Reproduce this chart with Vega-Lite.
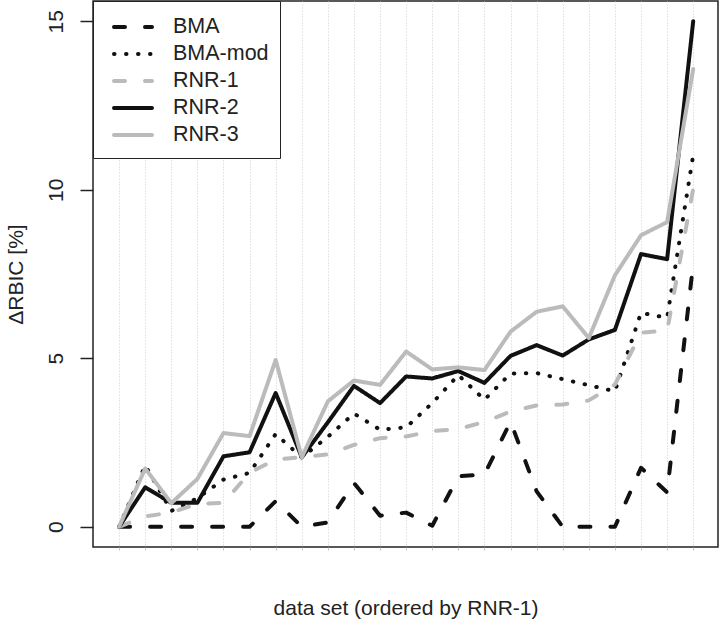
{
  "$schema": "https://vega.github.io/schema/vega-lite/v6.json",
  "width": 625,
  "height": 546,
  "autosize": {"type": "none"},
  "padding": {"left": 93, "top": 1, "right": 2, "bottom": 74},
  "background": "white",
  "config": {
    "view": {"stroke": "#222222", "strokeWidth": 1.5},
    "font": "Liberation Sans"
  },
  "data": {
    "values": [
      {"ds": 0, "BMA": 0, "BMA-mod": 0, "RNR-1": 0, "RNR-2": 0, "RNR-3": 0},
      {"ds": 1, "BMA": 0, "BMA-mod": 1.82, "RNR-1": 0.31, "RNR-2": 1.17, "RNR-3": 1.73},
      {"ds": 2, "BMA": 0, "BMA-mod": 0.47, "RNR-1": 0.42, "RNR-2": 0.71, "RNR-3": 0.70},
      {"ds": 3, "BMA": 0, "BMA-mod": 0.85, "RNR-1": 0.68, "RNR-2": 0.71, "RNR-3": 1.42},
      {"ds": 4, "BMA": 0, "BMA-mod": 1.40, "RNR-1": 0.71, "RNR-2": 2.09, "RNR-3": 2.78},
      {"ds": 5, "BMA": 0, "BMA-mod": 1.60, "RNR-1": 1.60, "RNR-2": 2.21, "RNR-3": 2.69},
      {"ds": 6, "BMA": 0.76, "BMA-mod": 2.75, "RNR-1": 2.00, "RNR-2": 3.97, "RNR-3": 4.95},
      {"ds": 7, "BMA": 0, "BMA-mod": 2.06, "RNR-1": 2.06, "RNR-2": 2.06, "RNR-3": 2.06},
      {"ds": 8, "BMA": 0.13, "BMA-mod": 2.67, "RNR-1": 2.15, "RNR-2": 3.10, "RNR-3": 3.72},
      {"ds": 9, "BMA": 1.30, "BMA-mod": 3.36, "RNR-1": 2.43, "RNR-2": 4.18, "RNR-3": 4.34},
      {"ds": 10, "BMA": 0.33, "BMA-mod": 2.88, "RNR-1": 2.63, "RNR-2": 3.67, "RNR-3": 4.21},
      {"ds": 11, "BMA": 0.42, "BMA-mod": 2.95, "RNR-1": 2.68, "RNR-2": 4.46, "RNR-3": 5.20},
      {"ds": 12, "BMA": 0.03, "BMA-mod": 3.67, "RNR-1": 2.84, "RNR-2": 4.40, "RNR-3": 4.67},
      {"ds": 13, "BMA": 1.50, "BMA-mod": 4.50, "RNR-1": 2.90, "RNR-2": 4.62, "RNR-3": 4.73},
      {"ds": 14, "BMA": 1.55, "BMA-mod": 3.77, "RNR-1": 3.11, "RNR-2": 4.27, "RNR-3": 4.65},
      {"ds": 15, "BMA": 3.12, "BMA-mod": 4.55, "RNR-1": 3.42, "RNR-2": 5.07, "RNR-3": 5.79},
      {"ds": 16, "BMA": 1.05, "BMA-mod": 4.56, "RNR-1": 3.60, "RNR-2": 5.39, "RNR-3": 6.38},
      {"ds": 17, "BMA": 0, "BMA-mod": 4.38, "RNR-1": 3.63, "RNR-2": 5.08, "RNR-3": 6.54},
      {"ds": 18, "BMA": 0, "BMA-mod": 4.20, "RNR-1": 3.75, "RNR-2": 5.56, "RNR-3": 5.60},
      {"ds": 19, "BMA": 0, "BMA-mod": 4.02, "RNR-1": 4.22, "RNR-2": 5.84, "RNR-3": 7.46},
      {"ds": 20, "BMA": 1.75, "BMA-mod": 6.35, "RNR-1": 5.76, "RNR-2": 8.09, "RNR-3": 8.65},
      {"ds": 21, "BMA": 1.02, "BMA-mod": 6.20, "RNR-1": 5.82, "RNR-2": 7.94, "RNR-3": 9.04},
      {"ds": 22, "BMA": 7.81, "BMA-mod": 11.03, "RNR-1": 10.03, "RNR-2": 15.0, "RNR-3": 13.58}
    ]
  },
  "transform": [
    {"fold": ["BMA", "BMA-mod", "RNR-1", "RNR-2", "RNR-3"], "as": ["method", "value"]}
  ],
  "mark": {"type": "line", "strokeCap": "round", "strokeJoin": "round", "strokeWidth": 4},
  "encoding": {
    "x": {
      "field": "ds",
      "type": "quantitative",
      "scale": {"domain": [-1, 22.95], "nice": false, "zero": false},
      "axis": {
        "values": [0,1,2,3,4,5,6,7,8,9,10,11,12,13,14,15,16,17,18,19,20,21,22],
        "labels": false,
        "domain": false,
        "grid": true,
        "gridDash": [1, 2],
        "gridColor": "#cccccc",
        "gridWidth": 1,
        "ticks": true,
        "tickSize": 3,
        "tickColor": "#c4c4c4",
        "title": "data set (ordered by RNR-1)",
        "titleFontSize": 21,
        "titleFontWeight": "normal",
        "titleColor": "#222222",
        "titleBaseline": "alphabetic",
        "titleY": 67
      }
    },
    "y": {
      "field": "value",
      "type": "quantitative",
      "scale": {"domain": [-0.6, 15.6], "nice": false, "zero": false},
      "axis": {
        "values": [0, 5, 10, 15],
        "grid": false,
        "domain": false,
        "tickSize": 13,
        "tickColor": "#222222",
        "tickWidth": 1.5,
        "labelAngle": -90,
        "labelAlign": "center",
        "labelBaseline": "alphabetic",
        "labelPadding": 18,
        "labelFontSize": 21,
        "labelColor": "#222222",
        "title": "ΔRBIC [%]",
        "titleFontSize": 21,
        "titleFontWeight": "normal",
        "titleColor": "#222222",
        "titleAngle": -90,
        "titleAlign": "center",
        "titleBaseline": "alphabetic",
        "titleX": -71,
        "titleY": 273
      }
    },
    "color": {
      "field": "method",
      "type": "nominal",
      "scale": {
        "domain": ["BMA", "BMA-mod", "RNR-1", "RNR-2", "RNR-3"],
        "range": ["#111111", "#111111", "#bbbbbb", "#111111", "#bbbbbb"]
      },
      "legend": {
        "title": null,
        "orient": "top-left",
        "offset": 0,
        "padding": 11,
        "symbolType": "stroke",
        "symbolSize": 1444,
        "symbolStrokeWidth": 4,
        "symbolOffset": 8,
        "labelOffset": 19,
        "labelFontSize": 21.5,
        "labelColor": "#222222",
        "rowPadding": 0,
        "clipHeight": 26.4,
        "fillColor": "white",
        "strokeColor": "#222222",
        "cornerRadius": 0,
        "encode": {
          "symbols": {"update": {"strokeCap": {"value": "round"}, "y": {"value": 15}}},
          "labels": {"update": {"y": {"value": 15}}}
        }
      }
    },
    "strokeDash": {
      "field": "method",
      "type": "nominal",
      "scale": {
        "domain": ["BMA", "BMA-mod", "RNR-1", "RNR-2", "RNR-3"],
        "range": [[11, 20], [0.5, 11.5], [11, 20], [1, 0], [1, 0]]
      },
      "legend": {
        "title": null,
        "orient": "top-left",
        "offset": 0,
        "padding": 11,
        "symbolType": "stroke",
        "symbolSize": 1444,
        "symbolStrokeWidth": 4,
        "symbolOffset": 8,
        "labelOffset": 19,
        "labelFontSize": 21.5,
        "labelColor": "#222222",
        "rowPadding": 0,
        "clipHeight": 26.4,
        "fillColor": "white",
        "strokeColor": "#222222",
        "cornerRadius": 0,
        "encode": {
          "symbols": {"update": {"strokeCap": {"value": "round"}, "y": {"value": 15}}},
          "labels": {"update": {"y": {"value": 15}}}
        }
      }
    }
  }
}
